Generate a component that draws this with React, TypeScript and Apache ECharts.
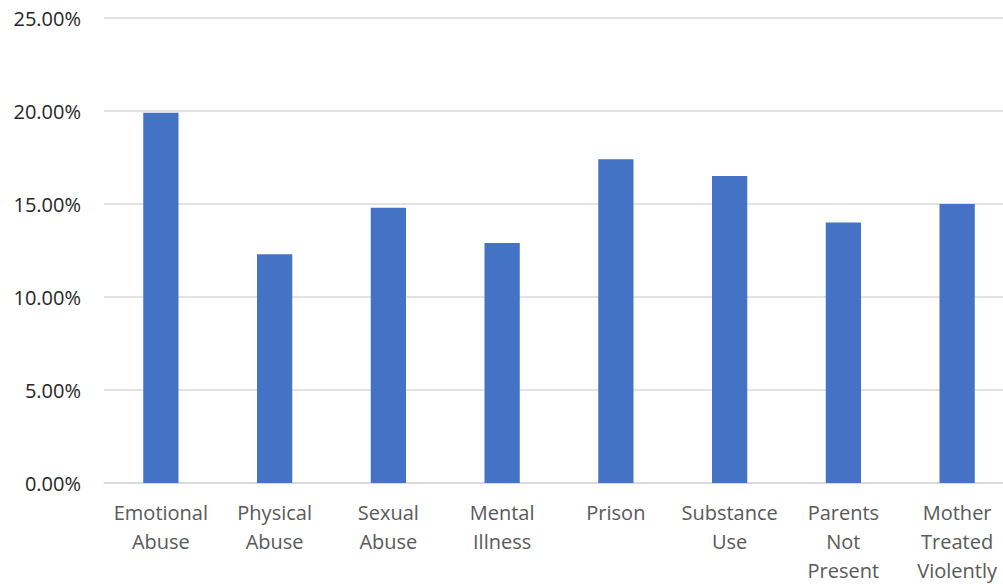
import React, { useEffect, useRef } from "react";
import * as echarts from "echarts";

// Prevalence of adverse childhood experiences, by category (%)
const categories: string[] = [
  "Emotional Abuse",
  "Physical Abuse",
  "Sexual Abuse",
  "Mental Illness",
  "Prison",
  "Substance Use",
  "Parents Not Present",
  "Mother Treated Violently",
];
const values: number[] = [19.9, 12.3, 14.8, 12.9, 17.4, 16.5, 14.0, 15.0];

const yMin = 0;
const yMax = 25;
const yStep = 5;

const FONT = "'Open Sans', 'Noto Sans', sans-serif";

export default function App() {
  const ref = useRef<HTMLDivElement>(null);

  useEffect(() => {
    if (!ref.current) return;
    const chart = echarts.init(ref.current, undefined, { renderer: "svg" });
    chart.setOption({
      animation: false,
      backgroundColor: "#ffffff",
      grid: {
        left: 104,
        right: -11,
        top: 18,
        bottom: 101,
        containLabel: false,
        outerBoundsMode: "none",
      },
      xAxis: {
        type: "category",
        data: categories,
        axisLine: { show: true, lineStyle: { color: "#d9d9d9", width: 1.5 } },
        axisTick: { show: false },
        axisLabel: {
          interval: 0,
          margin: 15,
          color: "#595959",
          fontFamily: FONT,
          fontSize: 20,
          lineHeight: 29,
          formatter: (v: string) => v.split(" ").join("\n"),
        },
      },
      yAxis: {
        type: "value",
        min: yMin,
        max: yMax,
        interval: yStep,
        axisLine: { show: false },
        axisTick: { show: false },
        splitLine: { lineStyle: { color: "#d9d9d9", width: 1.5 } },
        axisLabel: {
          margin: 23,
          color: "#262626",
          fontFamily: FONT,
          fontSize: 20,
          formatter: (v: number) => v.toFixed(2) + "%",
        },
      },
      series: [
        {
          type: "bar",
          data: values,
          barWidth: "31%",
          itemStyle: { color: "#4472c4" },
        },
      ],
    });
    return () => chart.dispose();
  }, []);

  return (
    <div
      ref={ref}
      style={{ position: "fixed", left: 0, top: 0, width: 1003, height: 584, background: "#fff" }}
    />
  );
}
